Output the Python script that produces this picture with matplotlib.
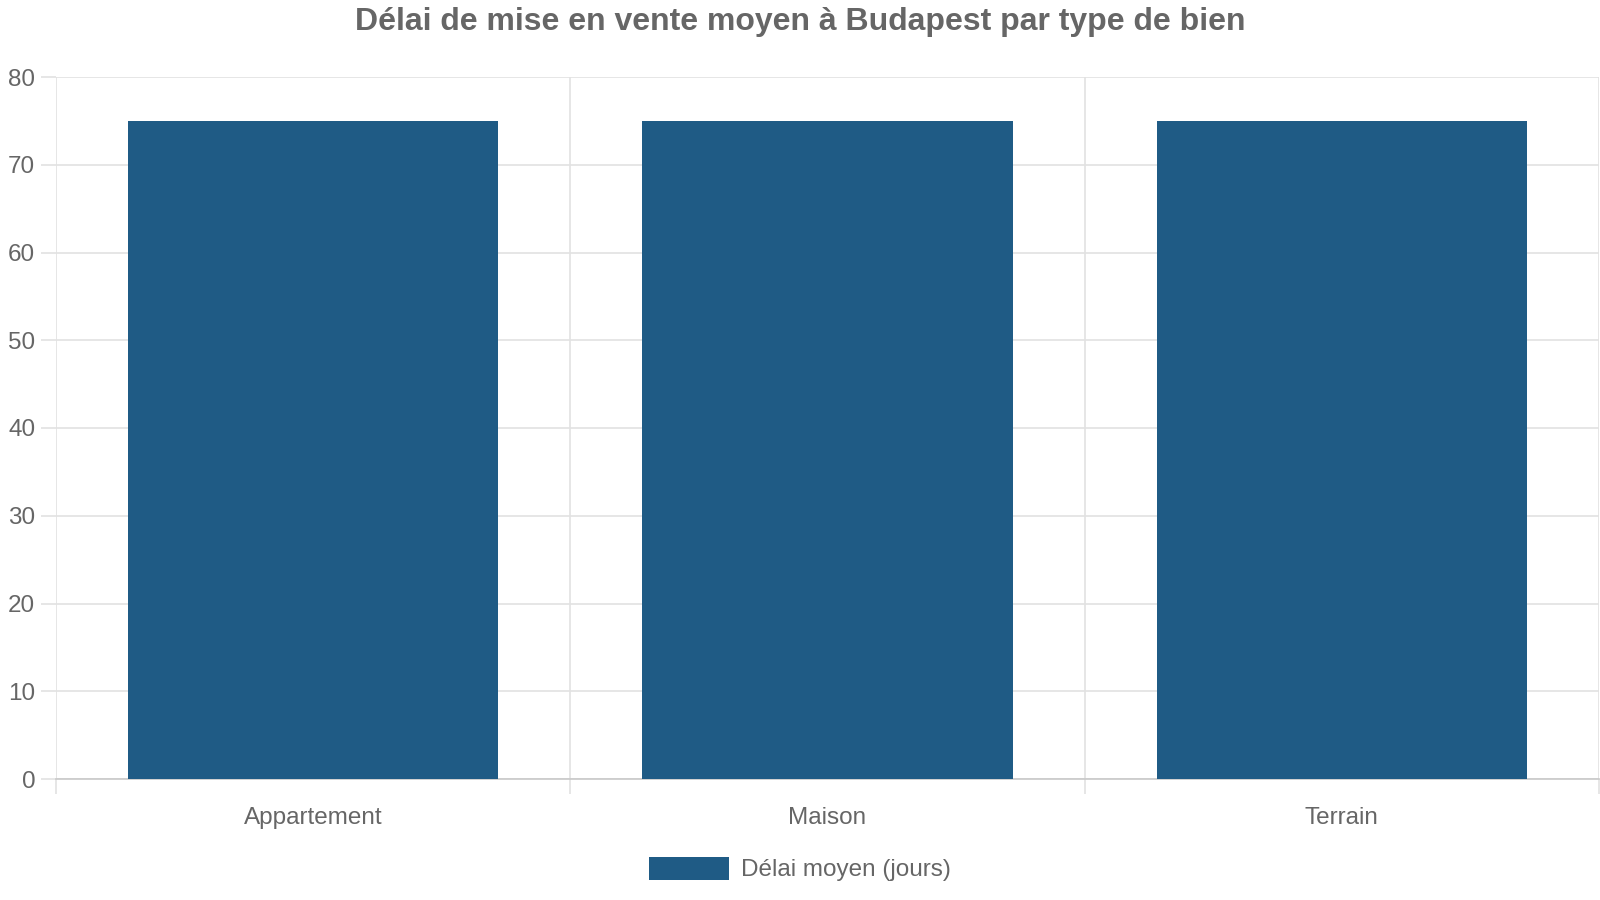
import numpy as np
import matplotlib.pyplot as plt

categories = ['Appartement', 'Maison', 'Terrain']
delai_moyen = [75, 75, 75]
series_label = 'Délai moyen (jours)'
title = 'Délai de mise en vente moyen à Budapest par type de bien'

plt.rcParams['font.family'] = ['Liberation Sans', 'DejaVu Sans']
text_color = '#666666'
grid_color = '#e2e2e2'
bar_color = '#1f5b85'

fig = plt.figure(figsize=(16, 9), dpi=100)
ax = fig.add_axes([56 / 1600, 1 - 779 / 900, (1599 - 56) / 1600, (779 - 77) / 900])

x = np.arange(len(categories))
ax.bar(x, delai_moyen, width=0.72, color=bar_color, label=series_label, zorder=3)

ax.set_xlim(-0.5, len(categories) - 0.5)
ax.set_ylim(0, 80)
ax.set_yticks(np.arange(0, 81, 10))

# category labels at centers, grid lines at the boundaries
ax.set_xticks(x)
ax.set_xticklabels(categories)
ax.set_xticks(np.arange(-0.5, len(categories)), minor=True)
ax.tick_params(axis='x', which='major', length=0, pad=20, labelsize=17.5, labelcolor=text_color)
ax.tick_params(axis='x', which='minor', length=11, color=grid_color, width=1.2)
ax.tick_params(axis='y', length=11, color=grid_color, width=1.2, pad=4,
               labelsize=17.5, labelcolor=text_color)

ax.grid(True, axis='y', color=grid_color, linewidth=1.2, zorder=0)
ax.grid(True, axis='x', which='minor', color=grid_color, linewidth=1.2, zorder=0)

for side in ['top', 'right', 'left']:
    ax.spines[side].set_visible(False)
ax.spines['bottom'].set_color('#c8c8c8')
ax.spines['bottom'].set_linewidth(1.2)

fig.text(0.5, 1 - 22 / 900, title, ha='center', va='center',
         fontsize=23, fontweight='bold', color=text_color)

fig.legend(loc='center', bbox_to_anchor=(0.5, 1 - 869 / 900), frameon=False,
           fontsize=17.5, labelcolor=text_color, handlelength=3.3, handleheight=1.1,
           handletextpad=0.5)

plt.savefig('out.png', dpi=100)
